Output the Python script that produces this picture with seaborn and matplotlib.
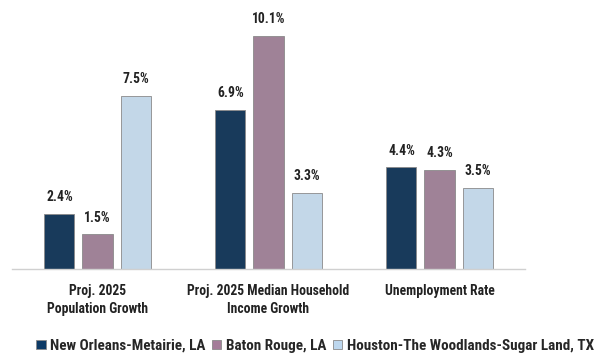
import matplotlib
matplotlib.use("Agg")
import matplotlib.pyplot as plt
import seaborn as sns
import pandas as pd

categories = ["Proj. 2025\nPopulation Growth",
              "Proj. 2025 Median Household\nIncome Growth",
              "Unemployment Rate"]
metros = ["New Orleans-Metairie, LA", "Baton Rouge, LA",
          "Houston-The Woodlands-Sugar Land, TX"]
new_orleans = [2.4, 6.9, 4.4]
baton_rouge = [1.5, 10.1, 4.3]
houston = [7.5, 3.3, 3.5]
colors = ["#0D3A66", "#A47D99", "#BDD7EE"]

rows = []
for metro, vals in zip(metros, [new_orleans, baton_rouge, houston]):
    for cat, v in zip(categories, vals):
        rows.append({"category": cat, "metro": metro, "value": v})
df = pd.DataFrame(rows)

sns.set_theme(style="white")
plt.rcParams["font.family"] = ["Roboto Condensed", "DejaVu Sans"]

fig = plt.figure(figsize=(6.06, 3.53), dpi=100)
ax = fig.add_axes([12 / 606, 1 - 269 / 353, (525 - 12) / 606, (269 - 10) / 353])

sns.barplot(data=df, x="category", y="value", hue="metro", order=categories,
            hue_order=metros, palette=colors, width=0.667, gap=0.21,
            edgecolor="#8a8a8a", linewidth=0.6, ax=ax, legend=False)

ax.set_ylim(0, (269 - 10) / 23.1)
ax.set_xlim(-0.5, 2.5)
for container in ax.containers:
    ax.bar_label(container, fmt="%.1f%%", padding=7, fontsize=9.8,
                 fontweight="bold", color="#222222")

ax.set_xlabel("")
ax.set_ylabel("")
ax.set_yticks([])
for s in ["top", "right", "left"]:
    ax.spines[s].set_visible(False)
ax.spines["bottom"].set_color("#d0d0d0")
ax.spines["bottom"].set_linewidth(1.0)
ax.tick_params(axis="x", length=0, pad=11, labelsize=9.8, labelcolor="#222222")
for t in ax.get_xticklabels():
    t.set_fontweight("bold")
    t.set_linespacing(1.35)

handles = [plt.Rectangle((0, 0), 1, 1, facecolor=c, edgecolor="#8a8a8a", linewidth=0.6)
           for c in colors]
fig.legend(handles, metros, loc="center", bbox_to_anchor=(0.52, 1 - 346 / 353),
           ncol=3, frameon=False, handlelength=0.6, handleheight=0.6,
           handletextpad=0.3, columnspacing=0.45,
           prop={"weight": "bold", "size": 10.9})

fig.savefig("out.png", dpi=100)
